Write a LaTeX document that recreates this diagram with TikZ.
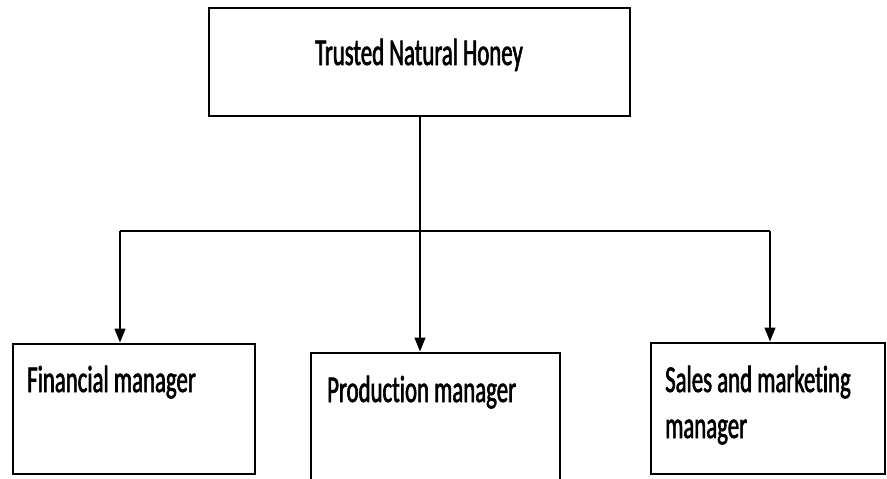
\documentclass[tikz,border=0pt]{standalone}
\usepackage{fontspec}
\setmainfont[FakeStretch=0.6, FakeBold=1.6, Ligatures=NoCommon]{Carlito}
\usetikzlibrary{arrows.meta}
\tikzset{
  boxnode/.style={draw=black, line width=1.8pt, rectangle, inner sep=0pt, anchor=north west},
  lbl/.style={inner sep=0pt, font=\fontsize{38}{46}\selectfont},
  conn/.style={line width=1.4pt, black},
  arr/.style={conn, -{Triangle[length=14pt, width=11pt]}, shorten >=0.5pt}
}
\begin{document}
\begin{tikzpicture}[x=1pt, y=-1pt]
\useasboundingbox (0,0) rectangle (887,479);
\clip (0,0) rectangle (887,479);
% boxes
\node[boxnode, minimum width=421pt, minimum height=108pt] (top) at (208,7) {};
\node[boxnode, minimum width=242pt, minimum height=130pt] (fin) at (12,343) {};
\node[boxnode, minimum width=249pt, minimum height=150pt] (prod) at (310,352) {};
\node[boxnode, minimum width=234pt, minimum height=131pt] (sales) at (650,342) {};
% texts
\node[lbl, anchor=base] (ttop) at (419,65) {Trusted Natural Honey};
\node[lbl, anchor=base west] (tfin) at (27,392) {Financial manager};
\node[lbl, anchor=base west] (tprod) at (327,402) {Production manager};
\node[lbl, anchor=base west] (tsales1) at (665,392) {Sales and marketing};
\node[lbl, anchor=base west] (tsales2) at (665,438) {manager};
% connectors
\coordinate (j) at (420,231);
\coordinate (hl) at (120,231);
\coordinate (hr) at (770,231);
\draw[conn] (j |- top.south) -- (j);
\draw[conn] (hl) -- (hr);
\draw[arr] (hl) -- (hl |- fin.north);
\draw[arr] (j) -- (j |- prod.north);
\draw[arr] (hr) -- (hr |- sales.north);
\end{tikzpicture}
\end{document}
